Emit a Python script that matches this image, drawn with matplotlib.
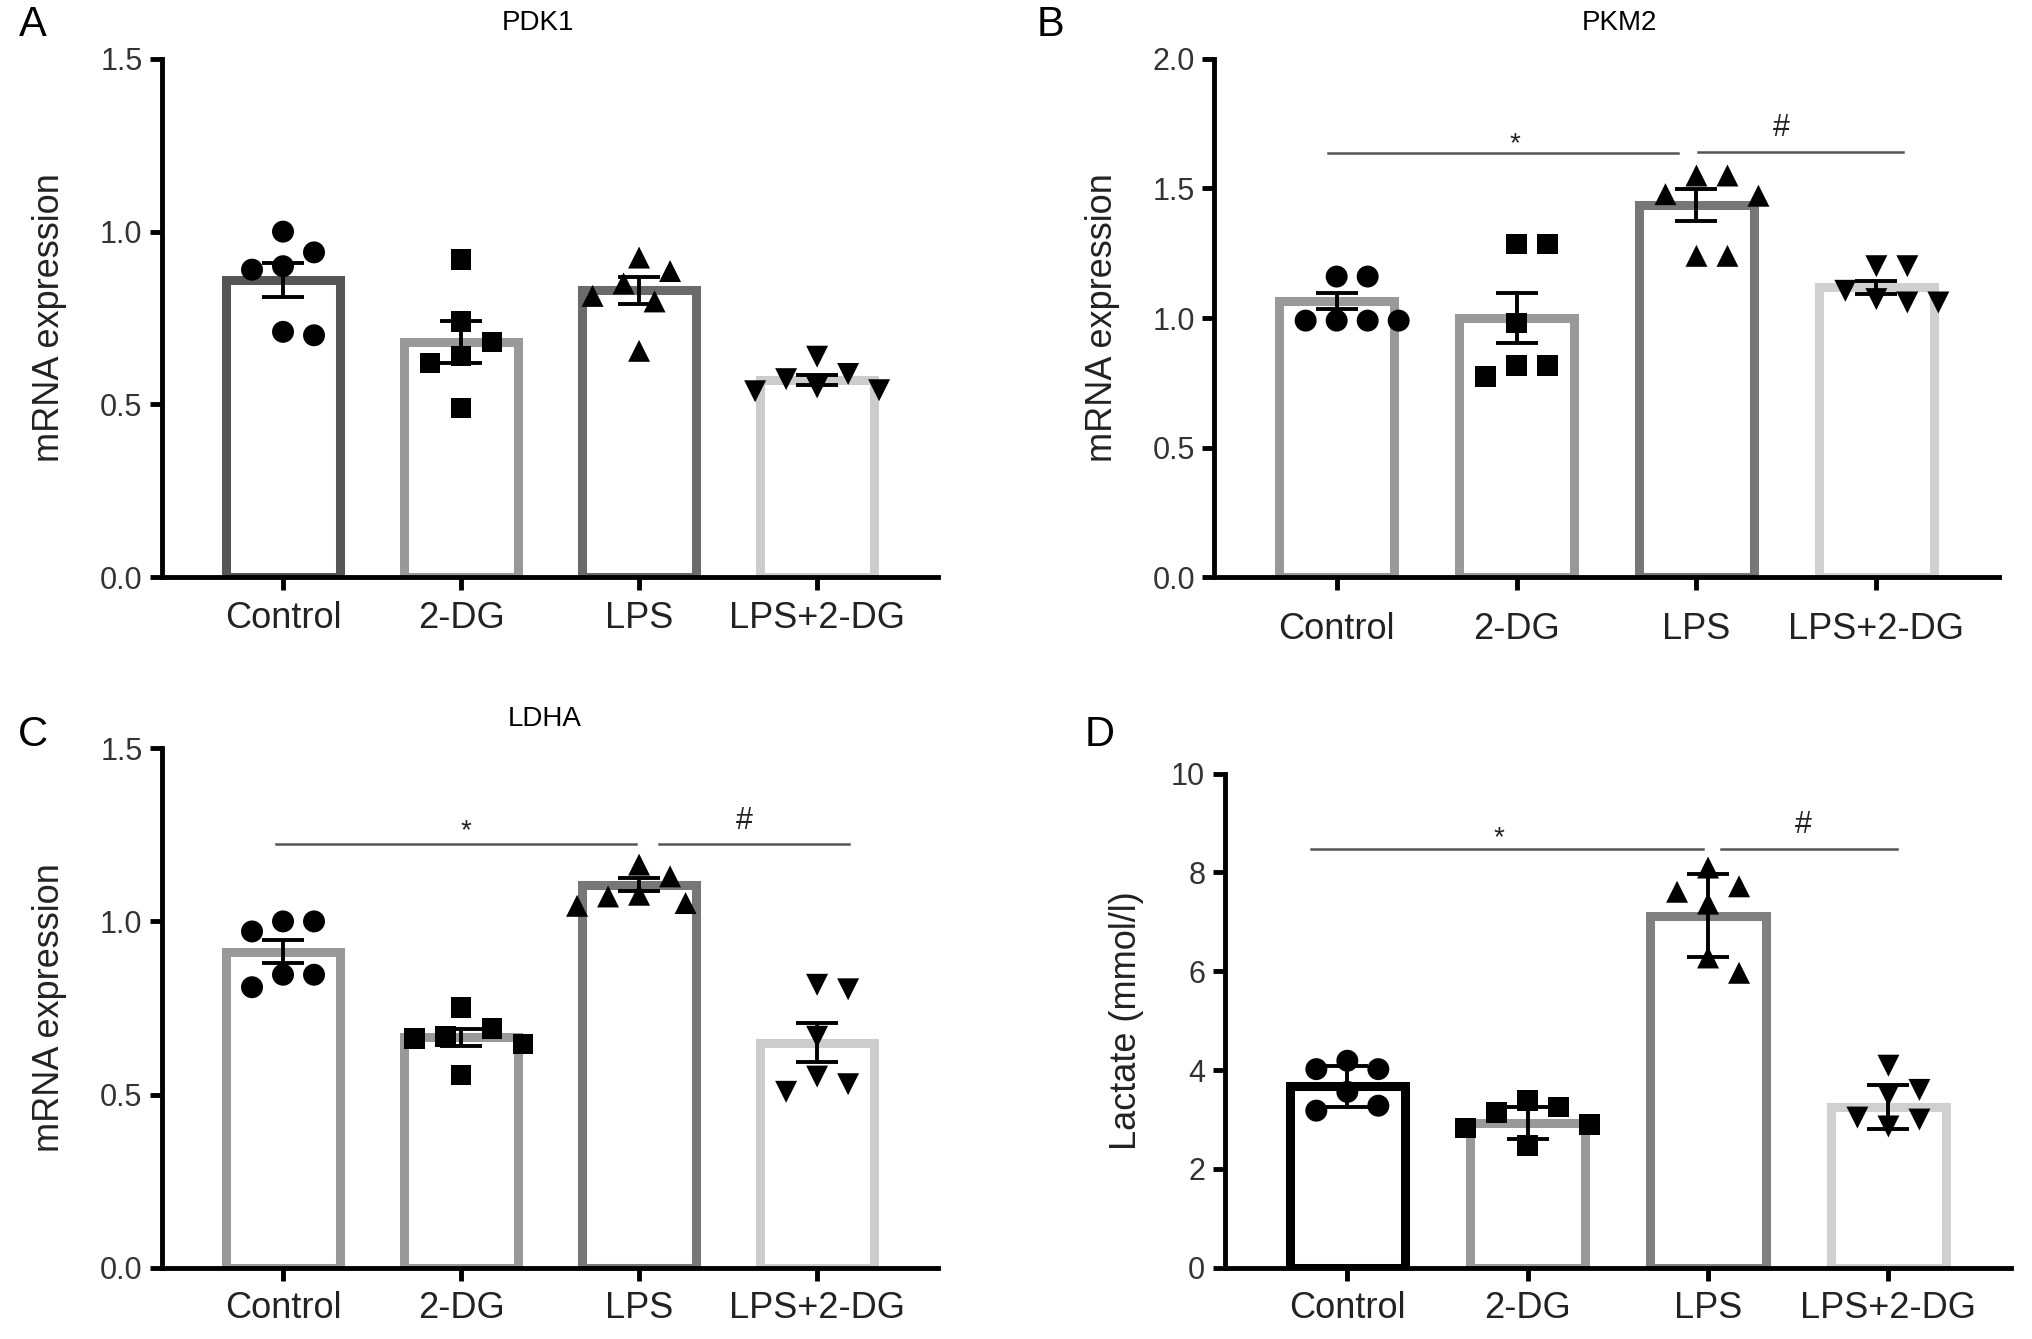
import matplotlib
matplotlib.use('Agg')
import matplotlib.pyplot as plt
import numpy as np

plt.rcParams['font.family'] = ['Liberation Sans', 'DejaVu Sans']

# ---- data ----
groups = ['Control', '2-DG', 'LPS', 'LPS+2-DG']

pdk1_points = [[1.00, 0.90, 0.89, 0.94, 0.70, 0.71],
               [0.92, 0.74, 0.68, 0.64, 0.62, 0.49],
               [0.925, 0.886, 0.85, 0.814, 0.798, 0.655],
               [0.638, 0.588, 0.573, 0.549, 0.538, 0.541]]
pdk1_mean = [0.86, 0.68, 0.83, 0.57]
pdk1_sem = [0.05, 0.06, 0.04, 0.015]

pkm2_points = [[1.16, 1.16, 0.99, 0.99, 0.99, 0.99],
               [1.285, 1.285, 0.98, 0.816, 0.816, 0.774],
               [1.55, 1.55, 1.472, 1.478, 1.24, 1.24],
               [1.20, 1.20, 1.105, 1.073, 1.06, 1.06]]
pkm2_mean = [1.067, 1.0, 1.437, 1.118]
pkm2_sem = [0.031, 0.098, 0.061, 0.026]

ldha_points = [[1.0, 1.0, 0.971, 0.846, 0.846, 0.81],
               [0.751, 0.691, 0.667, 0.662, 0.646, 0.556],
               [1.164, 1.13, 1.077, 1.072, 1.053, 1.045],
               [0.804, 0.817, 0.667, 0.552, 0.530, 0.508]]
ldha_mean = [0.913, 0.665, 1.106, 0.650]
ldha_sem = [0.033, 0.025, 0.018, 0.057]

lactate_points = [[4.02, 4.02, 4.19, 3.56, 3.18, 3.28],
                  [3.39, 3.14, 3.25, 2.83, 2.90, 2.48],
                  [8.10, 7.61, 7.72, 7.37, 6.28, 5.97],
                  [4.09, 3.60, 3.49, 3.00, 3.04, 2.86]]
lactate_mean = [3.67, 2.93, 7.12, 3.25]
lactate_err = [0.42, 0.33, 0.84, 0.45]

# significance bars: (x0, x1, y, label, label_x, label_y)
pkm2_sig = [(-0.05, 1.90, 1.635, '*', 0.99, 1.67), (2.01, 3.15, 1.64, '#', 2.47, 1.735)]
ldha_sig = [(-0.04, 1.98, 1.224, '*', 1.03, 1.26), (2.11, 3.18, 1.224, '#', 2.59, 1.29)]
lactate_sig = [(-0.2, 1.97, 8.48, '*', 0.84, 8.7), (2.07, 3.05, 8.48, '#', 2.53, 8.97)]

markers = ['o', 's', '^', 'v']
marker_sizes = [250, 220, 250, 250]


def swarm(vals, ppx, ppy, size_px):
    # simple beeswarm offsets so points don't overlap
    vals = np.asarray(vals, dtype=float)
    xs = np.zeros(len(vals))
    placed = []
    cands = [0, 0.5, -0.5, 1, -1, 1.5, -1.5, 2, -2, 2.5, -2.5]
    for i in np.argsort(-vals):
        y = vals[i]
        for k in cands:
            x = k * size_px / ppx
            if all(np.hypot((x - px) * ppx, (y - py) * ppy) >= size_px * 0.95 for px, py in placed):
                break
        placed.append((x, y))
        xs[i] = x
    return xs


def panel(rect, means, errs, points, colors, ylim, yticks, fmt, ylabel, label_x, sig=None, xpad=8):
    ax = fig.add_axes(rect)
    x = np.arange(len(groups))
    ax.bar(x, means, width=0.64, facecolor='white', edgecolor=colors, linewidth=6.5, zorder=1)
    w_px = rect[2] * fig.get_figwidth() * fig.dpi
    h_px = rect[3] * fig.get_figheight() * fig.dpi
    ppx = w_px / 4.36
    ppy = h_px / (ylim[1] - ylim[0])
    for i, pts in enumerate(points):
        off = swarm(pts, ppx, ppy, 31)
        ax.scatter(x[i] + off, pts, marker=markers[i], s=marker_sizes[i], color='black',
                   edgecolor='none', zorder=3)
    ax.errorbar(x, means, yerr=errs, fmt='none', ecolor='black', elinewidth=2.8,
                capsize=15, capthick=2.8, zorder=4)
    if sig:
        for x0, x1, y, lab, lx, ly in sig:
            ax.plot([x0, x1], [y, y], color='#555555', lw=1.8, zorder=2, clip_on=False)
            ax.text(lx, ly, lab, ha='center', va='center',
                    fontsize=20 if lab == '*' else 22, color='#222222')
    ax.set_xlim(-0.68, 3.68)
    ax.set_ylim(*ylim)
    ax.set_yticks(yticks)
    ax.set_yticklabels([fmt.format(v) for v in yticks], fontsize=22, color='#333333')
    ax.set_xticks(x)
    ax.set_xticklabels(groups, fontsize=26, color='#222222')
    ax.spines['top'].set_visible(False)
    ax.spines['right'].set_visible(False)
    ax.spines['left'].set_linewidth(3.5)
    ax.spines['bottom'].set_linewidth(3.5)
    ax.tick_params(axis='both', length=9, width=3.5, pad=5)
    ax.tick_params(axis='x', pad=xpad)
    ax.set_ylabel(ylabel, fontsize=26, color='#222222')
    ax.yaxis.set_label_coords(label_x, 0.5)
    return ax


fig = plt.figure(figsize=(20.32, 13.39), dpi=100)

panel([0.0797, 0.569, 0.382, 0.387], pdk1_mean, pdk1_sem, pdk1_points,
      ['#555555', '#999999', '#6a6a6a', '#cccccc'], (0, 1.5), [0, 0.5, 1.0, 1.5],
      '{:.1f}', 'mRNA expression', -0.122)
panel([0.5976, 0.569, 0.386, 0.387], pkm2_mean, pkm2_sem, pkm2_points,
      ['#999999', '#999999', '#777777', '#d0d0d0'], (0, 2.0), [0, 0.5, 1.0, 1.5, 2.0],
      '{:.1f}', 'mRNA expression', -0.120, pkm2_sig, xpad=16)
panel([0.0797, 0.0532, 0.382, 0.388], ldha_mean, ldha_sem, ldha_points,
      ['#999999', '#999999', '#777777', '#cccccc'], (0, 1.5), [0, 0.5, 1.0, 1.5],
      '{:.1f}', 'mRNA expression', -0.122, ldha_sig)
panel([0.6027, 0.0532, 0.387, 0.369], lactate_mean, lactate_err, lactate_points,
      ['#000000', '#999999', '#808080', '#d0d0d0'], (0, 10), [0, 2, 4, 6, 8, 10],
      '{:d}', 'Lactate (mmol/l)', -0.103, lactate_sig)

fig.text(0.265, 0.983, 'PDK1', fontsize=20, ha='center', va='center')
fig.text(0.797, 0.983, 'PKM2', fontsize=20, ha='center', va='center')
fig.text(0.268, 0.463, 'LDHA', fontsize=20, ha='center', va='center')

for lx, ly, lab in [(0.016, 0.981, 'A'), (0.517, 0.981, 'B'), (0.016, 0.451, 'C'), (0.541, 0.451, 'D')]:
    fig.text(lx, ly, lab, fontsize=30, ha='center', va='center')

fig.savefig('out.png', dpi=100)
plt.close(fig)
